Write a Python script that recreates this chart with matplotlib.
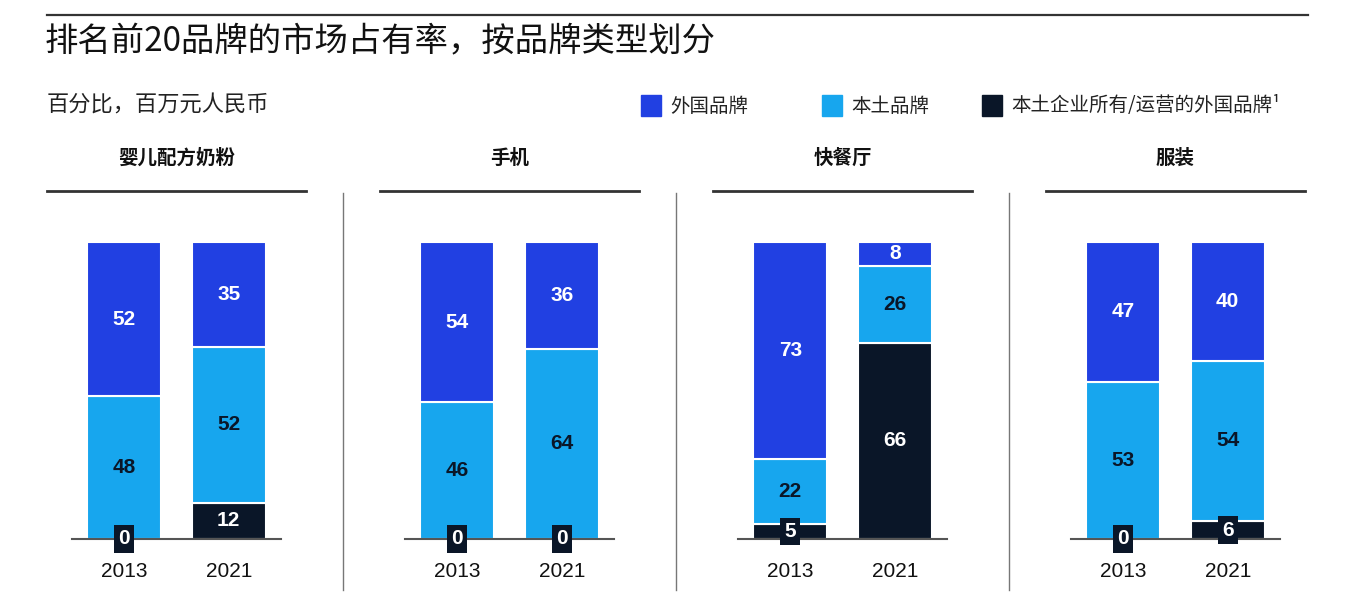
import matplotlib
matplotlib.use("Agg")
import matplotlib.pyplot as plt
from matplotlib.patches import Rectangle
from matplotlib.lines import Line2D

plt.rcParams['font.family'] = ['Noto Sans CJK SC', 'DejaVu Sans']

categories = ["婴儿配方奶粉", "手机", "快餐厅", "服装"]
years = ["2013", "2021"]
series_names = ["外国品牌", "本土品牌", "本土企业所有/运营的外国品牌¹"]

# [2013, 2021] per category
foreign = [[52, 35], [54, 36], [73, 8], [47, 40]]
local = [[48, 52], [46, 64], [22, 26], [53, 54]]
local_owned = [[0, 12], [0, 0], [5, 66], [0, 6]]

c_foreign = "#2140e2"
c_local = "#17a6ee"
c_dark = "#0a1628"
colors = [c_foreign, c_local, c_dark]

W, H = 1360, 616
fig = plt.figure(figsize=(W / 100, H / 100), dpi=100)


def fx(px):
    return px / W


def fy(py):
    return 1 - py / H


num_font = ['Liberation Sans', 'DejaVu Sans']

# top rule + title
fig.add_artist(Line2D([fx(47), fx(1308)], [fy(15), fy(15)], color="#333333", lw=1.6))
fig.text(fx(45), fy(42), "排名前20品牌的市场占有率，按品牌类型划分", fontsize=24,
         va="center", ha="left", color="#111111", fontweight="medium")
fig.text(fx(47), fy(105), "百分比，百万元人民币", fontsize=16, va="center", ha="left",
         color="#222222")

# legend
for lx, name, col in zip([641, 822, 982], series_names, colors):
    fig.add_artist(Rectangle((fx(lx), fy(116)), fx(20), 21 / H,
                             color=col, transform=fig.transFigure))
    fig.text(fx(lx + 29), fy(106), name, fontsize=14, va="center", ha="left",
             color="#222222")

panel_left = [47, 380, 713, 1046]
panel_w = 259

for i, cat in enumerate(categories):
    left = panel_left[i]
    ax = fig.add_axes([fx(left), fy(539), fx(panel_w), 297 / H])
    ax.set_xlim(-0.74, 1.74)
    ax.set_ylim(0, 100)
    ax.axis("off")

    for j in range(2):
        vals = [local_owned[i][j], local[i][j], foreign[i][j]]
        cols = [c_dark, c_local, c_foreign]
        tcols = ["white", c_dark, "white"]
        total = sum(vals)
        bottom = 0
        for v, col, tc in zip(vals, cols, tcols):
            h = v * 100 / total
            if v > 0:
                ax.bar(j, h, bottom=bottom, width=0.71, color=col,
                       edgecolor="white", linewidth=1.5)
            mid = bottom + h / 2
            if v < 7:
                ax.text(j, mid, str(v), ha="center", va="center", fontsize=15,
                        fontweight="bold", color="white", family=num_font,
                        clip_on=False, zorder=5,
                        bbox=dict(boxstyle="square,pad=0.2", fc=c_dark, ec="none"))
            else:
                ax.text(j, mid, str(v), ha="center", va="center", fontsize=15,
                        fontweight="bold", color=tc, family=num_font)
            bottom += h
        ax.text(j, -11, years[j], ha="center", va="center", fontsize=15,
                color="#111111", family=num_font, clip_on=False)

    ax.plot([-0.5, 1.5], [0, 0], color="#555555", lw=1.5, clip_on=False, zorder=4)

    fig.add_artist(Line2D([fx(left), fx(left + panel_w)], [fy(191), fy(191)],
                          color="#333333", lw=2))
    fig.text(fx(left + panel_w / 2), fy(158), cat, fontsize=14, fontweight="bold",
             ha="center", va="center", color="#111111")

for sx in [343, 676, 1009]:
    fig.add_artist(Line2D([fx(sx), fx(sx)], [fy(193), fy(590)], color="#777777", lw=1))

fig.savefig("out.png", dpi=100, facecolor="white")
